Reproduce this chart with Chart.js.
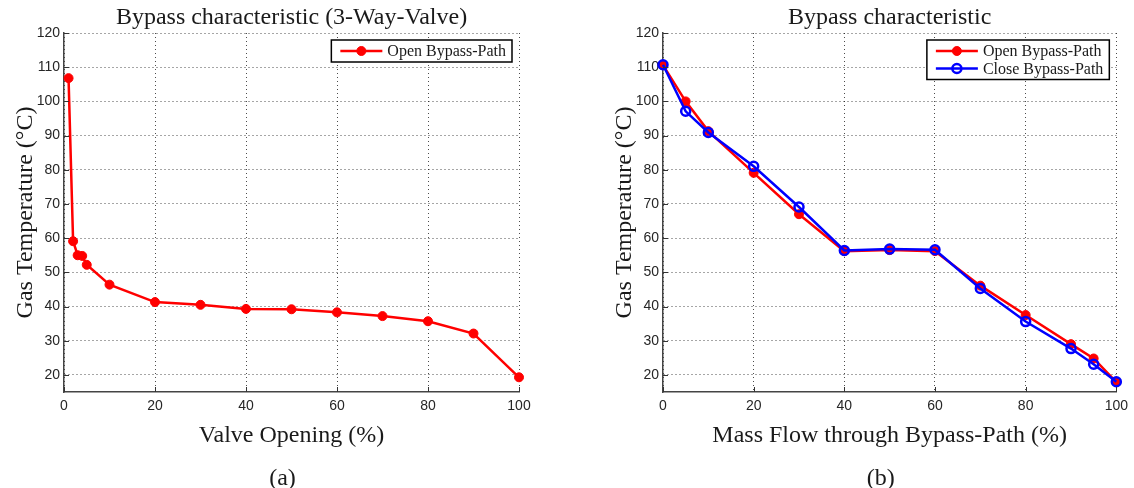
<!DOCTYPE html>
<html>
<head>
<meta charset="utf-8">
<script src="https://cdn.jsdelivr.net/npm/chart.js@4/dist/chart.umd.min.js"></script>
<style>
  body { margin: 0; background: #fff; }
  .panel { position: absolute; top: 0; width: 567px; height: 488px; }
</style>
</head>
<body>
<div class="panel" style="left:0"><canvas id="chartA" width="567" height="488"></canvas></div>
<div class="panel" style="left:567px"><canvas id="chartB" width="567" height="488"></canvas></div>
<script>
// (a) данные клапана
const valveOpening = [1, 2, 3, 4, 5, 10, 20, 30, 40, 50, 60, 70, 80, 90, 100];
const tempValve = [106.8, 59.1, 55.0, 54.8, 52.2, 46.4, 41.3, 40.5, 39.3, 39.2, 38.3, 37.2, 35.7, 32.1, 19.3];

// (b) массовый расход через байпас
const massFlow = [0, 5, 10, 20, 30, 40, 50, 60, 70, 80, 90, 95, 100];
const tempOpen = [110.6, 100.0, 91.3, 79.1, 67.0, 56.2, 56.5, 56.2, 46.1, 37.5, 29.0, 24.8, 17.9];
const tempClose = [110.7, 97.1, 90.9, 81.0, 69.1, 56.4, 56.8, 56.6, 45.3, 35.6, 27.7, 23.1, 18.0];

const yTicks = [20, 30, 40, 50, 60, 70, 80, 90, 100, 110, 120];
const xTicks = [0, 20, 40, 60, 80, 100];

const serif = '"Liberation Serif", "Times New Roman", serif';
const sans = '"Liberation Sans", Arial, sans-serif';

// Заголовок, подпись (a)/(b), легенда в рамке и внутренние засечки
const extras = {
  id: 'extras',
  afterDraw(chart, args, opts) {
    const { ctx, chartArea: a, scales: { x, y } } = chart;
    ctx.save();

    ctx.strokeStyle = '#333';
    ctx.lineWidth = 1;
    ctx.beginPath();
    x.ticks.forEach((t) => {
      const px = Math.round(x.getPixelForValue(t.value)) + 0.5;
      ctx.moveTo(px, a.bottom);
      ctx.lineTo(px, a.bottom - 5);
    });
    y.ticks.forEach((t) => {
      const py = Math.round(y.getPixelForValue(t.value)) + 0.5;
      ctx.moveTo(a.left, py);
      ctx.lineTo(a.left + 5, py);
    });
    ctx.stroke();

    const cx = (a.left + a.right) / 2;
    ctx.fillStyle = '#1a1a1a';
    ctx.font = '24px ' + serif;
    ctx.textAlign = 'center';
    ctx.textBaseline = 'alphabetic';
    ctx.fillText(opts.title, cx, 24);
    ctx.fillText(opts.caption, cx - 9, 485);

    // легенда
    const sets = chart.data.datasets;
    ctx.font = '16px ' + serif;
    let textW = 0;
    sets.forEach((ds) => { textW = Math.max(textW, ctx.measureText(ds.label).width); });
    const boxW = 56 + textW + 6;
    const boxH = sets.length * 17.5 + 4.5;
    const bx = a.right - 7 - boxW;
    const by = a.top + 7;
    ctx.fillStyle = '#fff';
    ctx.fillRect(bx, by, boxW, boxH);
    ctx.strokeStyle = '#000';
    ctx.lineWidth = 1.5;
    ctx.strokeRect(bx, by, boxW, boxH);
    sets.forEach((ds, i) => {
      const ry = by + 11 + i * 17.5;
      ctx.strokeStyle = ds.borderColor;
      ctx.lineWidth = ds.borderWidth;
      ctx.beginPath();
      ctx.moveTo(bx + 9, ry);
      ctx.lineTo(bx + 51, ry);
      ctx.stroke();
      ctx.beginPath();
      ctx.arc(bx + 30, ry, ds.pointRadius, 0, Math.PI * 2);
      if (ds.pointBackgroundColor !== 'transparent') {
        ctx.fillStyle = ds.pointBackgroundColor;
        ctx.fill();
      }
      ctx.lineWidth = ds.pointBorderWidth;
      ctx.strokeStyle = ds.pointBorderColor;
      ctx.stroke();
      ctx.fillStyle = '#1a1a1a';
      ctx.textAlign = 'left';
      ctx.textBaseline = 'middle';
      ctx.fillText(ds.label, bx + 56, ry + 1);
    });
    ctx.restore();
  },
};

function redSeries(label, xs, ys) {
  return {
    label: label,
    data: xs.map((v, i) => ({ x: v, y: ys[i] })),
    borderColor: '#ff0000',
    backgroundColor: '#ff0000',
    borderWidth: 2.5,
    pointRadius: 4.5,
    pointBackgroundColor: '#ff0000',
    pointBorderColor: '#ff0000',
    pointBorderWidth: 1,
    tension: 0,
    clip: false,
    order: 1,
  };
}

function blueSeries(label, xs, ys) {
  return {
    label: label,
    data: xs.map((v, i) => ({ x: v, y: ys[i] })),
    borderColor: '#0000ff',
    backgroundColor: '#0000ff',
    borderWidth: 2.5,
    pointRadius: 4.5,
    pointBackgroundColor: 'transparent',
    pointBorderColor: '#0000ff',
    pointBorderWidth: 2.5,
    tension: 0,
    clip: false,
    order: 0,
  };
}

function makeChart(id, datasets, xTitle, title, caption, padLeft, padRight) {
  const ctx = document.getElementById(id).getContext('2d');
  return new Chart(ctx, {
    type: 'line',
    data: { datasets: datasets },
    plugins: [extras],
    options: {
      responsive: false,
      devicePixelRatio: 1,
      animation: false,
      layout: { padding: { top: 33, left: padLeft, right: padRight, bottom: 35 } },
      plugins: {
        legend: { display: false },
        title: { display: false },
        tooltip: { enabled: false },
        extras: { title: title, caption: caption },
      },
      scales: {
        x: {
          type: 'linear',
          min: 0,
          max: 100,
          afterBuildTicks: (s) => { s.ticks = xTicks.map((v) => ({ value: v })); },
          afterFit: (s) => { s.height = 61; },
          ticks: { font: { family: sans, size: 14 }, color: '#262626', padding: 6 },
          grid: { color: 'rgba(0,0,0,0.7)', lineWidth: 1, drawTicks: false },
          border: { display: true, color: '#444', width: 1.5, dash: [1, 3] },
          title: {
            display: true,
            text: xTitle,
            font: { family: serif, size: 24 },
            color: '#1a1a1a',
            padding: { top: 0, bottom: 3 },
          },
        },
        y: {
          type: 'linear',
          min: 15,
          max: 120,
          afterBuildTicks: (s) => { s.ticks = yTicks.map((v) => ({ value: v })); },
          afterFit: (s) => { s.width = 64; },
          ticks: { font: { family: sans, size: 14 }, color: '#262626', padding: 4 },
          grid: { color: 'rgba(0,0,0,0.7)', lineWidth: 1, drawTicks: false },
          border: { display: true, color: '#444', width: 1.5, dash: [1, 3] },
          title: {
            display: true,
            text: 'Gas Temperature (°C)',
            font: { family: serif, size: 24 },
            color: '#1a1a1a',
            padding: { top: 11, bottom: 0 },
          },
        },
      },
    },
  });
}

makeChart(
  'chartA',
  [redSeries('Open Bypass-Path', valveOpening, tempValve)],
  'Valve Opening (%)',
  'Bypass characteristic (3-Way-Valve)',
  '(a)',
  0,
  48,
);

makeChart(
  'chartB',
  [
    redSeries('Open Bypass-Path', massFlow, tempOpen),
    blueSeries('Close Bypass-Path', massFlow, tempClose),
  ],
  'Mass Flow through Bypass-Path (%)',
  'Bypass characteristic',
  '(b)',
  32,
  16,
);
</script>
</body>
</html>
